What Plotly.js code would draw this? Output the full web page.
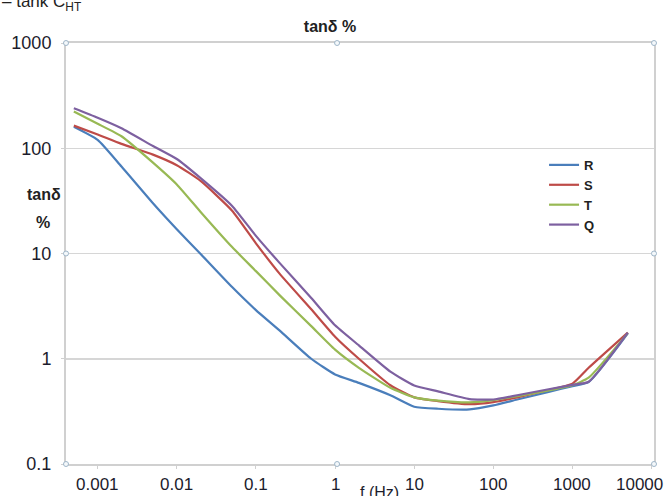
<!DOCTYPE html>
<html>
<head>
<meta charset="utf-8">
<script src="https://cdn.plot.ly/plotly-3.0.1.min.js"></script>
<style>html,body{margin:0;padding:0;background:#fff;}#chart{width:665px;height:496px;}</style>
</head>
<body>
<div id="chart"></div>
<script>
// Frequencies (Hz)
const freq = [0.0005, 0.001, 0.002, 0.005, 0.01, 0.02, 0.05, 0.1, 0.2, 0.5, 1, 2, 5, 10, 20, 50, 100, 200, 500, 1000, 1600, 5000];
// tan delta (%) per phase
const seriesR = [160, 120, 67, 30, 17, 9.9, 4.8, 2.9, 1.85, 1.0, 0.71, 0.59, 0.45, 0.35, 0.335, 0.33, 0.36, 0.41, 0.484, 0.55, 0.60, 1.74];
const seriesS = [164, 135, 110, 87, 69, 48.9, 25.5, 12.5, 6.4, 2.95, 1.62, 1.0, 0.56, 0.43, 0.396, 0.37, 0.387, 0.43, 0.505, 0.58, 0.82, 1.77];
const seriesT = [223, 171, 130, 73, 45.3, 24.8, 11.5, 6.8, 4.0, 2.04, 1.22, 0.82, 0.53, 0.43, 0.40, 0.385, 0.405, 0.44, 0.50, 0.56, 0.66, 1.75];
const seriesQ = [240, 195, 155, 105, 79, 52, 28.3, 14.7, 8.1, 3.78, 2.08, 1.34, 0.755, 0.557, 0.49, 0.414, 0.41, 0.45, 0.513, 0.564, 0.604, 1.77];
const seriesNames = ['R', 'S', 'T', 'Q'];
const xTickVals = [0.001, 0.01, 0.1, 1, 10, 100, 1000, 10000];
const xTickText = ['0.001', '0.01', '0.1', '1', '10', '100', '1000', '10000'];
const yTickVals = [0.1, 1, 10, 100, 1000];
const yTickText = ['0.1', '1', '10', '100', '1000'];

const colors = ['#4A7EBB', '#BE4B48', '#98B954', '#7D60A0'];
const allSeries = [seriesR, seriesS, seriesT, seriesQ];
const FONT = 'Liberation Sans, Arial, sans-serif';

const traces = allSeries.map((ys, i) => ({
  type: 'scatter', mode: 'lines', name: seriesNames[i],
  x: freq, y: ys,
  line: {color: colors[i], width: 2.2, shape: 'spline', smoothing: 0.5}
}));

const annotations = xTickVals.map((v, i) => ({
  xref: 'x', x: Math.log10(v), yref: 'paper', y: 0,
  xanchor: 'center', yanchor: 'middle', yshift: -20,
  xshift: i === xTickVals.length - 1 ? -12 : 0,
  text: xTickText[i], showarrow: false,
  font: {family: FONT, size: 17, color: '#1c1c2c'}
}));
annotations.push(
  {xref: 'paper', x: 0.534, yref: 'paper', y: 0, xanchor: 'center', yanchor: 'middle', yshift: -28,
   text: 'f (Hz)', showarrow: false, font: {family: FONT, size: 16, color: '#1c1c2c'}},
  {xref: 'paper', x: -0.0374, yref: 'paper', y: 0.639, xanchor: 'center', yanchor: 'middle',
   text: '<b>tanδ</b>', showarrow: false, font: {family: FONT, size: 16, color: '#222'}},
  {xref: 'paper', x: -0.0383, yref: 'paper', y: 0.5736, xanchor: 'center', yanchor: 'middle',
   text: '<b>%</b>', showarrow: false, font: {family: FONT, size: 16, color: '#222'}},
  {xref: 'paper', x: -0.112, yref: 'paper', y: 1, xanchor: 'left', yanchor: 'middle', yshift: 40,
   text: '– tank C<sub>HT</sub>', showarrow: false, font: {family: FONT, size: 17, color: '#222'}}
);

const shapes = [];
[[0,0],[0.461,0],[1,0],[0,0.5],[1,0.5],[0,1],[0.461,1],[1,1]].forEach(p => {
  shapes.push({type: 'circle', xref: 'paper', yref: 'paper', xsizemode: 'pixel', ysizemode: 'pixel',
    xanchor: p[0], yanchor: p[1], x0: -2.5, x1: 2.5, y0: -2.5, y1: 2.5,
    line: {color: '#9fb6c9', width: 1}, fillcolor: '#f4f8fb', layer: 'above'});
});

const layout = {
  width: 665, height: 496,
  margin: {l: 66, r: 11, t: 43, b: 32, pad: 0},
  paper_bgcolor: '#ffffff', plot_bgcolor: '#ffffff',
  font: {family: FONT, color: '#222'},
  title: {text: '<b>tanδ %</b>', xref: 'paper', x: 0.449, xanchor: 'center',
          yref: 'container', y: 0.9476, yanchor: 'middle',
          font: {family: FONT, size: 16, color: '#222'}},
  xaxis: {type: 'log', range: [-3.4, 4.03], tickvals: xTickVals, showticklabels: false,
          showgrid: false, zeroline: false, showline: true, mirror: true,
          linecolor: '#d0d0d0', linewidth: 2, ticks: 'outside', ticklen: 3, tickcolor: '#d0d0d0'},
  yaxis: {type: 'log', range: [-1, 3], tickvals: yTickVals, ticktext: yTickText,
          showgrid: true, gridcolor: '#d6d6d6', gridwidth: 1.5, zeroline: false,
          showline: true, mirror: true, linecolor: '#d0d0d0', linewidth: 2,
          ticks: 'outside', ticklen: 3, tickcolor: '#d0d0d0', ticklabelstandoff: 6,
          tickfont: {family: FONT, size: 18, color: '#1c1c2c'}},
  legend: {x: 0.813, y: 0.746, xanchor: 'left', yanchor: 'top', bgcolor: 'rgba(0,0,0,0)',
           font: {family: FONT, size: 13, color: '#222', weight: 'bold'}, tracegroupgap: 0},
  showlegend: true,
  annotations: annotations,
  shapes: shapes
};

Plotly.newPlot('chart', traces, layout, {staticPlot: true, displayModeBar: false});
</script>
</body>
</html>
